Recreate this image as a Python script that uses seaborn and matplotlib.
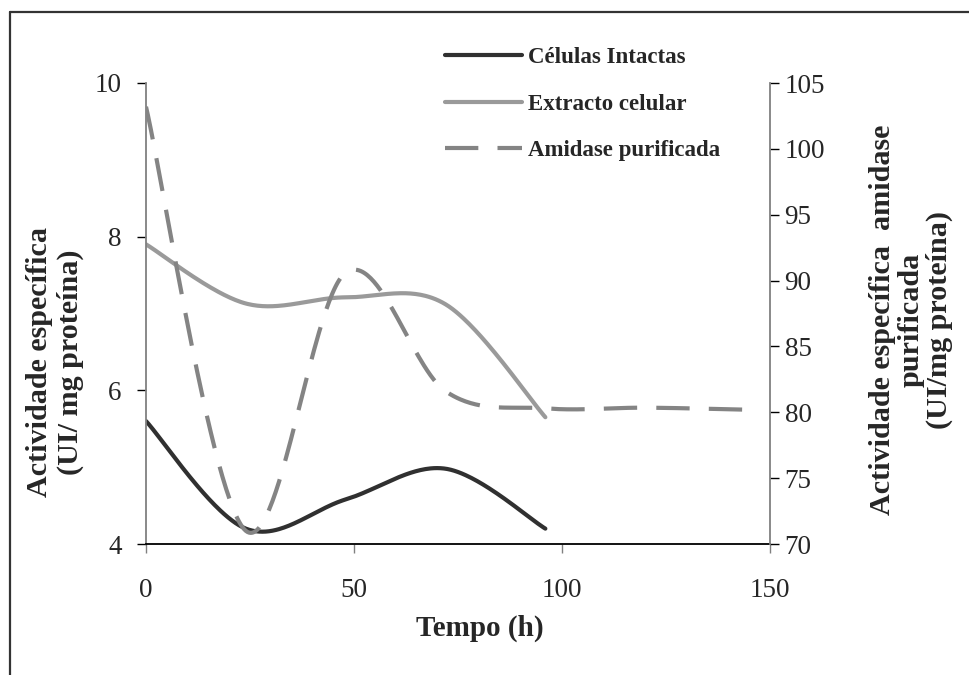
import numpy as np
import matplotlib
matplotlib.use("Agg")
import matplotlib.pyplot as plt
from matplotlib.lines import Line2D
import seaborn as sns

# Measurement times (h) and specific activities
tempo = [0, 24, 48, 72, 96]
celulas_intactas = [5.6, 4.2, 4.58, 4.98, 4.2]
extracto_celular = [7.9, 7.13, 7.21, 7.12, 5.65]

tempo_amidase = [0, 24, 48, 72, 96, 120, 144]
amidase_purificada = [103.2, 71.0, 90.6, 81.6, 80.3, 80.35, 80.2]

x_ticks = [0, 50, 100, 150]
y_left_ticks = [4, 6, 8, 10]
y_right_ticks = [70, 75, 80, 85, 90, 95, 100, 105]

sns.set_style("white")
plt.rcParams["font.family"] = ["Liberation Serif", "DejaVu Serif"]


def smooth_curve(x, y, n=60):
    """Cubic Bezier smoothing through every point (spreadsheet-style smoothed line)."""
    pts = np.column_stack([x, y]).astype(float)
    P = np.vstack([pts[0], pts, pts[-1]])
    xs, ys = [], []
    nseg = len(pts) - 1
    for i in range(1, len(P) - 2):
        p0, p1, p2, p3 = P[i - 1], P[i], P[i + 1], P[i + 2]
        c1 = p1 + (p2 - p0) / 6.0
        c2 = p2 - (p3 - p1) / 6.0
        s = np.linspace(0, 1, n, endpoint=(i == nseg))[:, None]
        b = ((1 - s) ** 3) * p1 + 3 * ((1 - s) ** 2) * s * c1 + 3 * (1 - s) * s ** 2 * c2 + s ** 3 * p2
        xs.append(b[:, 0])
        ys.append(b[:, 1])
    return np.concatenate(xs), np.concatenate(ys)


W, H = 969, 675
fig = plt.figure(figsize=(W / 100, H / 100), dpi=100)
x0, x1, y_top, y_bot = 146, 770, 83, 544
ax = fig.add_axes([x0 / W, 1 - y_bot / H, (x1 - x0) / W, (y_bot - y_top) / H])
ax2 = ax.twinx()

c_cel = "#303030"
c_ext = "#9a9a9a"
c_ami = "#848484"
lw = 3.0
dash = (8.0, 4.6)

sx, sy = smooth_curve(tempo, celulas_intactas)
sns.lineplot(x=sx, y=sy, ax=ax, sort=False, estimator=None, color=c_cel,
             linewidth=lw, solid_capstyle="round", legend=False)
sx, sy = smooth_curve(tempo, extracto_celular)
sns.lineplot(x=sx, y=sy, ax=ax, sort=False, estimator=None, color=c_ext,
             linewidth=lw, solid_capstyle="round", legend=False)
sx, sy = smooth_curve(tempo_amidase, amidase_purificada)
sns.lineplot(x=sx, y=sy, ax=ax2, sort=False, estimator=None, color=c_ami,
             linewidth=lw, legend=False)
ax2.lines[-1].set_dashes(dash)
ax2.lines[-1].set_dash_capstyle("butt")

ax.set_xlim(0, 150)
ax.set_ylim(4, 10)
ax2.set_ylim(70, 105)
ax.set_xticks(x_ticks)
ax.set_yticks(y_left_ticks)
ax2.set_yticks(y_right_ticks)
ax.set_xticklabels([str(v) for v in x_ticks])
ax.set_yticklabels([str(v) for v in y_left_ticks])
ax2.set_yticklabels([str(v) for v in y_right_ticks])

tick_fs = 19.5
ax.tick_params(axis="y", direction="out", length=6.5, width=1.0, color="black",
               labelsize=tick_fs, pad=11, left=True)
ax.tick_params(axis="x", direction="out", length=6.5, width=1.0, color="#808080",
               labelsize=tick_fs, pad=18, bottom=True)
ax2.tick_params(axis="y", direction="out", length=6.5, width=1.0, color="black",
                labelsize=tick_fs, pad=4, right=True)

for a in (ax, ax2):
    a.spines["top"].set_visible(False)
    a.grid(False)
ax.spines["right"].set_visible(False)
ax.spines["left"].set_color("#808080")
ax.spines["left"].set_linewidth(1.3)
ax.spines["bottom"].set_color("black")
ax.spines["bottom"].set_linewidth(1.3)
ax2.spines["left"].set_visible(False)
ax2.spines["bottom"].set_visible(False)
ax2.spines["right"].set_color("#808080")
ax2.spines["right"].set_linewidth(1.3)

lab_fs = 21.7
ax.set_xlabel("Tempo (h)", fontsize=21, fontweight="bold")
ax.xaxis.set_label_coords((480 - x0) / (x1 - x0), (y_bot - 628) / (y_bot - y_top))
ax.xaxis.label.set_verticalalignment("center")

ax.set_ylabel("Actividade específica\n(UI/ mg proteína)", fontsize=lab_fs,
              fontweight="bold", linespacing=1.2)
ax.yaxis.set_label_coords((55 - x0) / (x1 - x0), (y_bot - 362) / (y_bot - y_top))
ax.yaxis.label.set_verticalalignment("center")
ax.yaxis.label.set_horizontalalignment("center")

ax2.set_ylabel("Actividade específica  amidase\npurificada\n(UI/mg proteína)",
               fontsize=lab_fs, fontweight="bold", linespacing=1.05, rotation=90)
ax2.yaxis.set_label_coords((911 - x0) / (x1 - x0), (y_bot - 320) / (y_bot - y_top))
ax2.yaxis.label.set_verticalalignment("center")
ax2.yaxis.label.set_horizontalalignment("center")

handles = [
    Line2D([], [], color=c_cel, lw=lw, solid_capstyle="round"),
    Line2D([], [], color=c_ext, lw=lw, solid_capstyle="round"),
    Line2D([], [], color=c_ami, lw=lw, dashes=dash, dash_capstyle="butt"),
]
labels = ["Células Intactas", "Extracto celular", "Amidase purificada"]
fig.legend(handles, labels, loc="upper left", bbox_to_anchor=(445 / W, 1 - 47 / H),
           frameon=False, prop={"weight": "bold", "size": 16.5},
           handlelength=3.36, handletextpad=0.26, labelspacing=1.12,
           borderpad=0, borderaxespad=0)

# outer frame (top and left edges)
fig.add_artist(Line2D([9.5 / W, 1.0], [1 - 12 / H, 1 - 12 / H], transform=fig.transFigure,
                      color="#333333", lw=1.6))
fig.add_artist(Line2D([9.5 / W, 9.5 / W], [1 - 12 / H, 0.0], transform=fig.transFigure,
                      color="#333333", lw=1.6))

fig.savefig("out.png", dpi=100)
